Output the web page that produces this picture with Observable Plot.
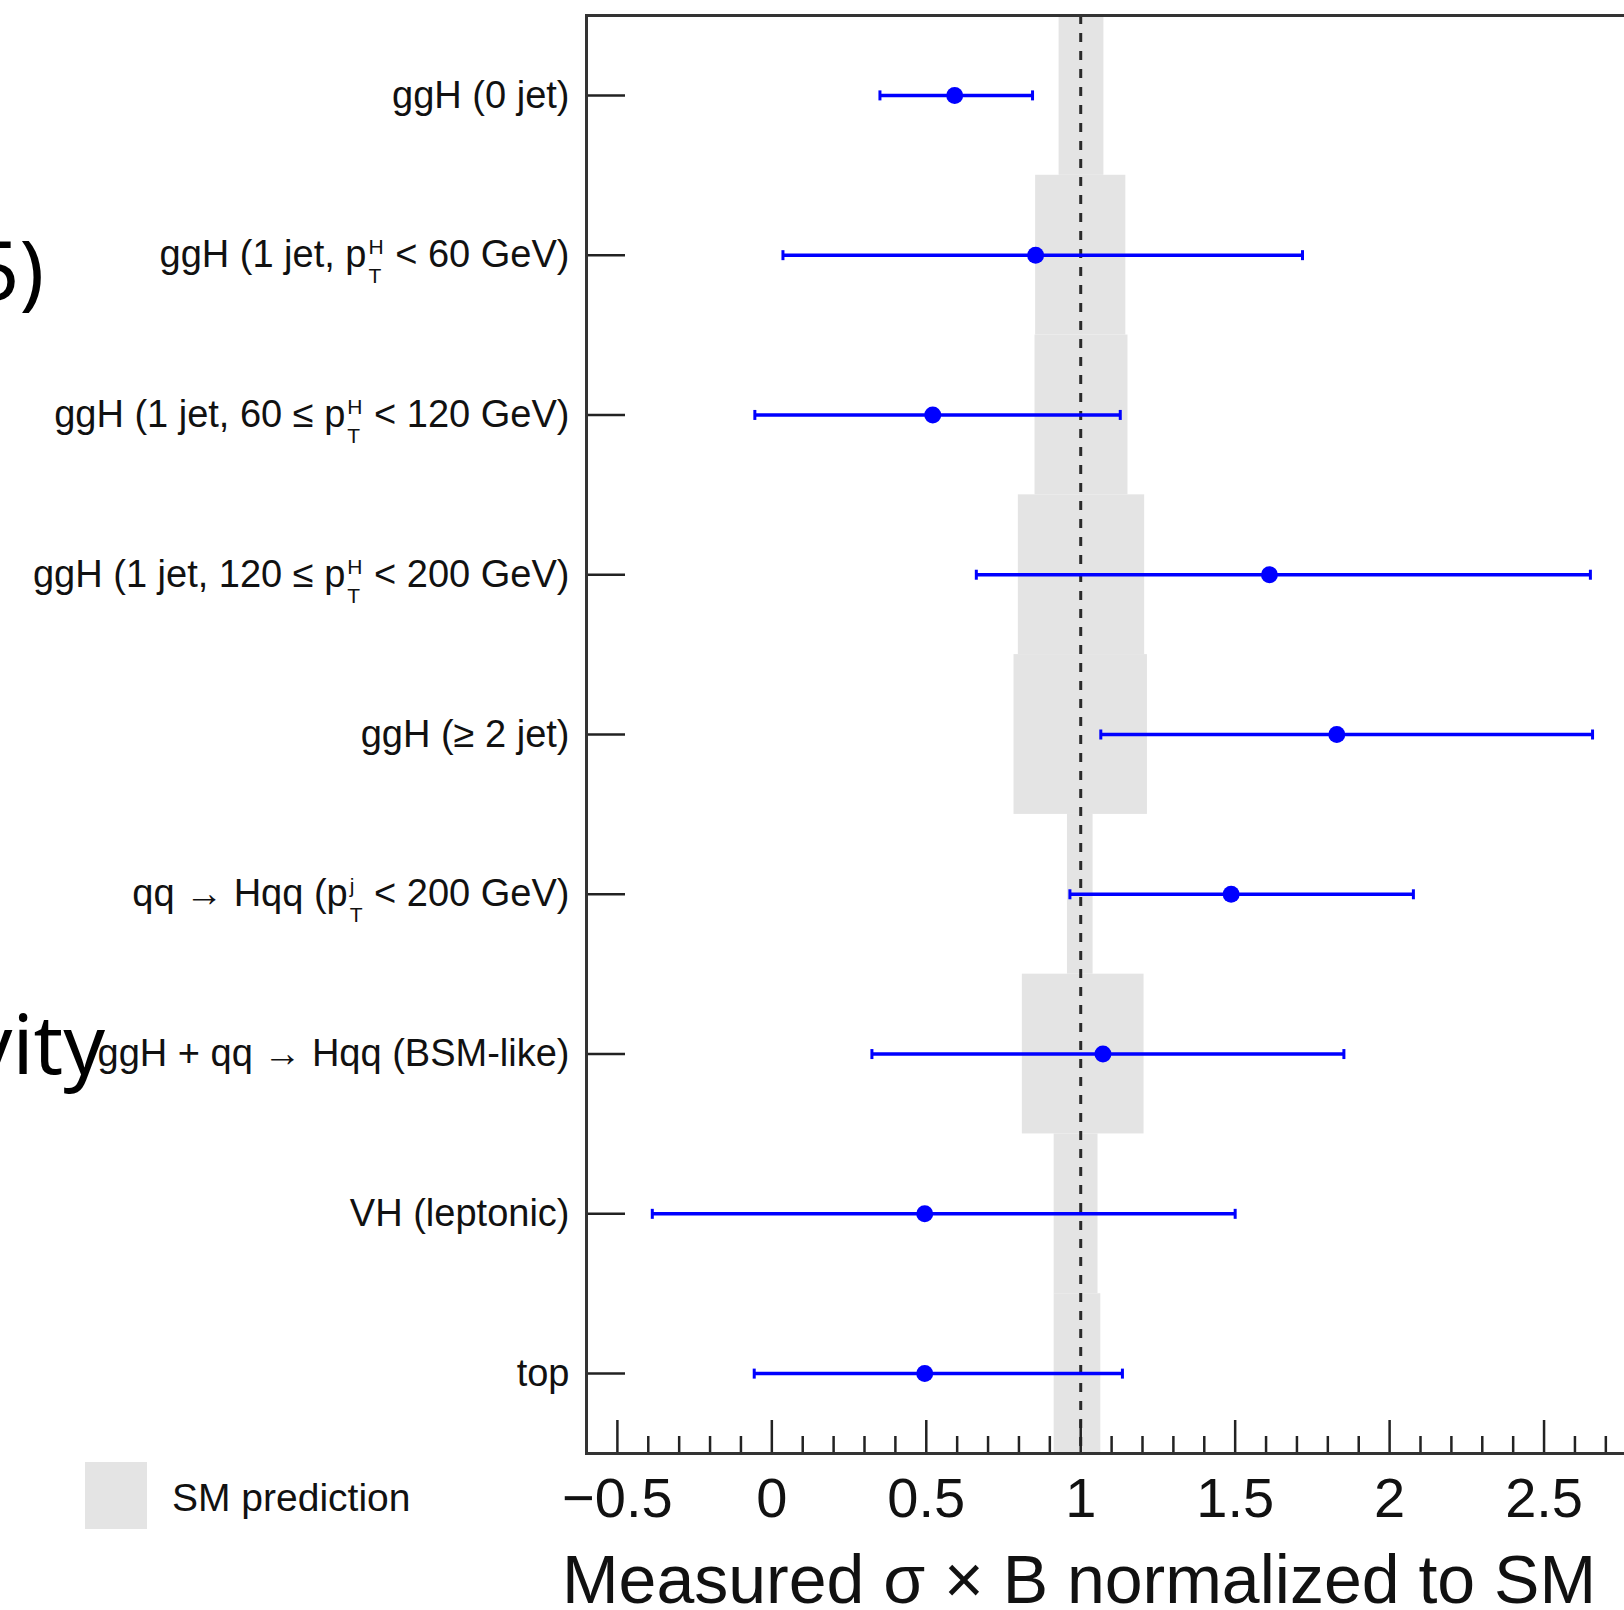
<!DOCTYPE html>
<html>
<head>
<meta charset="utf-8">
<script src="https://cdn.jsdelivr.net/npm/d3@7"></script>
<script src="https://cdn.jsdelivr.net/npm/@observablehq/plot@0.6"></script>
<style>
  html, body { margin: 0; padding: 0; background: #fff; overflow: hidden; }
  #wrap { position: relative; width: 1624px; height: 1610px; overflow: hidden; background: #fff; }
  #wrap svg { display: block; }
  .abs { position: absolute; white-space: nowrap; line-height: 1; }
  .frag { font-family: "Noto Sans", "Open Sans", sans-serif; font-size: 82px; color: #000; }
  .hel { font-family: "Liberation Sans", Arial, Helvetica, sans-serif; color: #111; }
</style>
</head>
<body>
<div id="wrap"></div>
<script>
// ---------------- data ----------------
const rowLabels = [
  "ggH (0 jet)",
  "ggH (1 jet, p_T^H < 60 GeV)",
  "ggH (1 jet, 60 \u2264 p_T^H < 120 GeV)",
  "ggH (1 jet, 120 \u2264 p_T^H < 200 GeV)",
  "ggH (\u2265 2 jet)",
  "qq \u2192 Hqq (p_T^j < 200 GeV)",
  "ggH + qq \u2192 Hqq (BSM-like)",
  "VH (leptonic)",
  "top"
];
const measured = [0.592, 0.854, 0.521, 1.611, 1.829, 1.487, 1.072, 0.495, 0.495];
const errLow   = [0.350, 0.036, -0.055, 0.662, 1.065, 0.965, 0.324, -0.387, -0.057];
const errHigh  = [0.844, 1.718, 1.128, 2.650, 2.657, 2.077, 1.852, 1.500, 1.135];
const smLow    = [0.930, 0.854, 0.852, 0.798, 0.784, 0.957, 0.811, 0.914, 0.914];
const smHigh   = [1.075, 1.146, 1.153, 1.207, 1.216, 1.040, 1.205, 1.056, 1.065];
const smValue  = 1;
const majorTicks = [-0.5, 0, 0.5, 1, 1.5, 2, 2.5, 3];
const majorTickLabels = ["\u22120.5", "0", "0.5", "1", "1.5", "2", "2.5", "3"];
const minorTicks = [-0.4, -0.3, -0.2, -0.1, 0.1, 0.2, 0.3, 0.4, 0.6, 0.7, 0.8, 0.9,
  1.1, 1.2, 1.3, 1.4, 1.6, 1.7, 1.8, 1.9, 2.1, 2.2, 2.3, 2.4, 2.6, 2.7, 2.8, 2.9];
const xTitle = "Measured \u03c3 \u00d7 B normalized to SM";
const legendLabel = "SM prediction";

// ---------------- layout / style ----------------
const W = 1624, H = 1545;
const mt = 15, mb = 92, ml = 586, mr = -74;
const frameH = H - mt - mb;
const frameW = W - ml - mr;
const BLUE = "#0000ff";
const INK = "#222";

const rowIdx = rowLabels.map((_, i) => i);
const records = rowLabels.map((label, i) => ({
  i, label, val: measured[i], lo: errLow[i], hi: errHigh[i], smLo: smLow[i], smHi: smHigh[i]
}));

const capSymbol = {
  draw(ctx, size) {
    const r = Math.sqrt(size / Math.PI);
    ctx.moveTo(0, -r);
    ctx.lineTo(0, r);
  }
};

const chart = Plot.plot({
  width: W,
  height: H,
  marginTop: mt,
  marginBottom: mb,
  marginLeft: ml,
  marginRight: mr,
  style: {fontFamily: "'Liberation Sans', Arial, Helvetica, sans-serif", fontSize: "38px", background: "#fff", color: "#111"},
  x: {domain: [-0.6, 3.0]},
  y: {domain: [-0.5, rowLabels.length - 0.5], reverse: true},
  marks: [
    Plot.rectX(records, {x1: "smLo", x2: "smHi", y1: d => d.i - 0.5, y2: d => d.i + 0.5, fill: "#e4e4e4"}),
    Plot.ruleX([smValue], {stroke: "#2a2a2a", strokeWidth: 3, strokeDasharray: "9,9"}),
    Plot.ruleY(rowIdx, {y: d => d, stroke: INK, strokeWidth: 2.5, insetRight: frameW - 39}),
    Plot.ruleX(majorTicks, {x: d => d, stroke: INK, strokeWidth: 2.5, insetTop: frameH - 33}),
    Plot.ruleX(minorTicks, {x: d => d, stroke: INK, strokeWidth: 2.5, insetTop: frameH - 17}),
    Plot.frame({stroke: "#333", strokeWidth: 3}),
    Plot.axisX({ticks: majorTicks.slice(0, 7), tickFormat: d => majorTickLabels[majorTicks.indexOf(d)],
      tickSize: 0, tickPadding: 24, fontSize: 56, fill: "#111", label: null}),
    Plot.axisY({ticks: rowIdx, tickFormat: i => rowLabels[i], tickSize: 0, tickPadding: 17,
      fontSize: 38, fill: "#111", label: null}),
    Plot.ruleY(records, {y: "i", x1: "lo", x2: "hi", stroke: BLUE, strokeWidth: 3.5}),
    Plot.dot(records, {x: "lo", y: "i", symbol: capSymbol, r: 5, stroke: BLUE, strokeWidth: 3, fill: "none"}),
    Plot.dot(records, {x: "hi", y: "i", symbol: capSymbol, r: 5, stroke: BLUE, strokeWidth: 3, fill: "none"}),
    Plot.dot(records, {x: "val", y: "i", r: 8.5, fill: BLUE, stroke: "none"})
  ]
});

const wrap = document.getElementById("wrap");
wrap.appendChild(chart);

// rich text for p_T^X labels (stacked sub/superscript)
const NS = "http://www.w3.org/2000/svg";
chart.querySelectorAll('[aria-label="y-axis tick label"] text').forEach(t => {
  const s = t.textContent;
  const m = s.match(/^(.*?p)_(\w)\^(\w)(.*)$/);
  if (!m) return;
  const [, pre, sub, sup, post] = m;
  t.textContent = "";
  const add = (txt, attrs) => {
    const ts = document.createElementNS(NS, "tspan");
    for (const k in attrs) ts.setAttribute(k, attrs[k]);
    ts.textContent = txt;
    t.appendChild(ts);
    return ts;
  };
  add(pre, {});
  const supT = add(sup, {"font-size": 21, dy: -13, dx: 2});
  const wSup = supT.getComputedTextLength();
  const subT = add(sub, {"font-size": 21, dx: -wSup, dy: 29});
  const wSub = subT.getComputedTextLength();
  add(post, {dy: -16, dx: Math.max(0, wSup - wSub) + 1});
});

// legend, axis title and background fragments
function addDiv(cls, text, css) {
  const d = document.createElement("div");
  d.className = "abs " + cls;
  d.textContent = text;
  Object.assign(d.style, css);
  wrap.appendChild(d);
  return d;
}
addDiv("frag", "5)", {right: "1580px", top: "227px"});
addDiv("frag", "vity", {right: "1519px", top: "1001px"});

const sw = document.createElement("div");
sw.className = "abs";
Object.assign(sw.style, {left: "85px", top: "1462px", width: "62px", height: "67px", background: "#e4e4e4"});
wrap.appendChild(sw);
addDiv("hel", legendLabel, {left: "172px", top: "1478px", fontSize: "39px"});

addDiv("hel", xTitle, {left: "1079px", top: "1549px", fontSize: "68px", lineHeight: "60px", transform: "translateX(-50%)"});
</script>
</body>
</html>
